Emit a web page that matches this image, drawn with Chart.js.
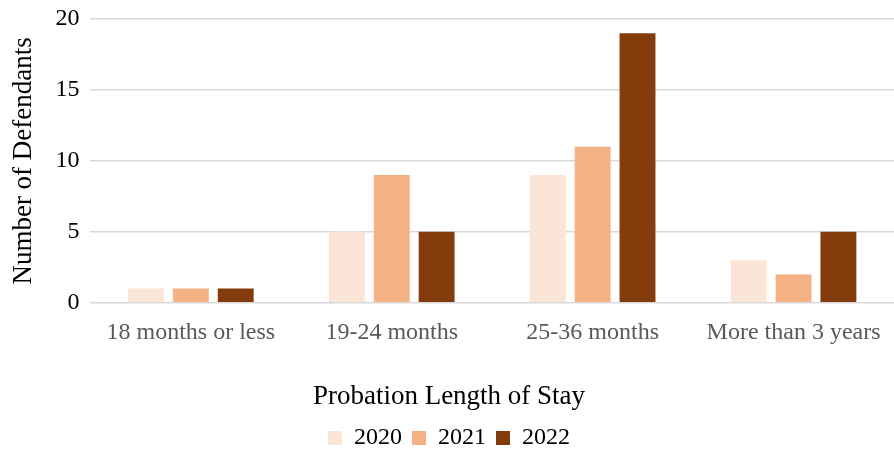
<!DOCTYPE html>
<html>
<head>
<meta charset="utf-8">
<script src="https://cdn.jsdelivr.net/npm/chart.js@4"></script>
<style>
  html, body { margin: 0; padding: 0; background: #fff; }
  #wrap { width: 894px; height: 453px; }
</style>
</head>
<body>
<div id="wrap"><canvas id="stayChart"></canvas></div>
<script>
// categories and series
const categories = ["18 months or less", "19-24 months", "25-36 months", "More than 3 years"];
const years = ["2020", "2021", "2022"];
const values2020 = [1, 5, 9, 3];
const values2021 = [1, 9, 11, 2];
const values2022 = [1, 5, 19, 5];
const yTicks = [0, 5, 10, 15, 20];

const colors = ["#FBE5D6", "#F4B183", "#843C0C"];
const serif = "'Liberation Serif', 'Times New Roman', serif";

const ctx = document.getElementById("stayChart").getContext("2d");

const stayChart = new Chart(ctx, {
  type: "bar",
  data: {
    labels: categories,
    datasets: [values2020, values2021, values2022].map((vals, i) => ({
      label: years[i],
      data: vals,
      backgroundColor: colors[i],
      categoryPercentage: 0.67,
      barPercentage: 0.8
    }))
  },
  options: {
    responsive: true,
    maintainAspectRatio: false,
    animation: false,
    layout: { padding: { top: 19, right: 0, left: 4, bottom: -7 } },
    plugins: {
      legend: {
        position: "bottom",
        // x axis title sits above the legend, centred on the page like the original
        title: {
          display: true,
          text: "Probation Length of Stay",
          font: { family: serif, size: 27 },
          color: "#000",
          padding: { top: 28, bottom: 0 }
        },
        labels: {
          font: { family: serif, size: 24 },
          color: "#000",
          boxWidth: 14,
          boxHeight: 14,
          padding: 10
        }
      },
      tooltip: { enabled: false }
    },
    scales: {
      x: {
        grid: { display: false },
        border: { display: false },
        ticks: { font: { family: serif, size: 24 }, color: "#595959", padding: 8 }
      },
      y: {
        min: 0,
        max: 20,
        afterBuildTicks: (axis) => { axis.ticks = yTicks.map(v => ({ value: v })); },
        // let the top gridline sit where the layout padding puts it
        afterFit: (axis) => { axis.paddingTop = 0; },
        grid: { color: "#D9D9D9", lineWidth: 1.5, drawTicks: false },
        border: { display: false },
        ticks: { font: { family: serif, size: 24 }, color: "#000", padding: 11 },
        title: {
          display: true,
          text: "Number of Defendants",
          font: { family: serif, size: 27 },
          color: "#000",
          padding: { bottom: 4 }
        }
      }
    }
  }
});
</script>
</body>
</html>
